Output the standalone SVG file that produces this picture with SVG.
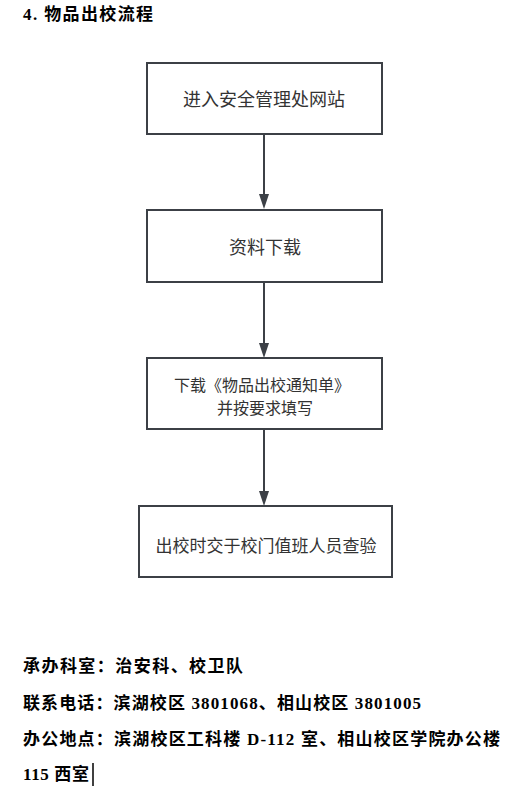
<svg xmlns="http://www.w3.org/2000/svg" width="529" height="786" viewBox="0 0 529 786">
<style>
.box{fill:#ffffff;stroke:#3c4046;stroke-width:2}
.lbl{font-family:"Noto Sans CJK SC","Noto Sans",sans-serif;fill:#333333;text-anchor:middle}
.edge{stroke:#3c4046;stroke-width:2;fill:none}
.head{fill:#3c4046}
.doc{font-family:"Liberation Serif","Noto Sans CJK SC",serif;font-size:17px;font-weight:bold;fill:#000000}
</style>
<rect width="529" height="786" fill="#ffffff"/>
<text class="doc" x="23" y="20" textLength="130" lengthAdjust="spacing">4. 物品出校流程</text>
<g id="connectors">
<line class="edge" x1="264" y1="134" x2="264" y2="196"/>
<polygon class="head" points="259,194 269,194 264,209"/>
<line class="edge" x1="264" y1="282" x2="264" y2="345"/>
<polygon class="head" points="259,343 269,343 264,358"/>
<line class="edge" x1="264" y1="429" x2="264" y2="493"/>
<polygon class="head" points="259,491 269,491 264,506"/>
</g>
<g id="node1">
<rect class="box" x="147" y="63" width="235" height="71"/>
<text class="lbl" x="264" y="106" font-size="18">进入安全管理处网站</text>
</g>
<g id="node2">
<rect class="box" x="147" y="210" width="235" height="72"/>
<text class="lbl" x="265" y="254" font-size="18">资料下载</text>
</g>
<g id="node3">
<rect class="box" x="147" y="358" width="235" height="71"/>
<text class="lbl" x="262" y="391" font-size="16">下载《物品出校通知单》</text>
<text class="lbl" x="265" y="414" font-size="16">并按要求填写</text>
</g>
<g id="node4">
<rect class="box" x="139" y="506" width="253" height="71"/>
<text class="lbl" x="266" y="552" font-size="17">出校时交于校门值班人员查验</text>
</g>
<g id="footer">
<text class="doc" x="23" y="672" textLength="220" lengthAdjust="spacing">承办科室：治安科、校卫队</text>
<text class="doc" x="23" y="709" textLength="398" lengthAdjust="spacing">联系电话：滨湖校区 3801068、相山校区 3801005</text>
<text class="doc" x="23" y="745" textLength="477" lengthAdjust="spacing">办公地点：滨湖校区工科楼 D-112 室、相山校区学院办公楼</text>
<text class="doc" x="23" y="780" textLength="66" lengthAdjust="spacing">115 西室</text>
<line x1="93" y1="763" x2="93" y2="786" stroke="#000000" stroke-width="1.5"/>
</g>
</svg>
